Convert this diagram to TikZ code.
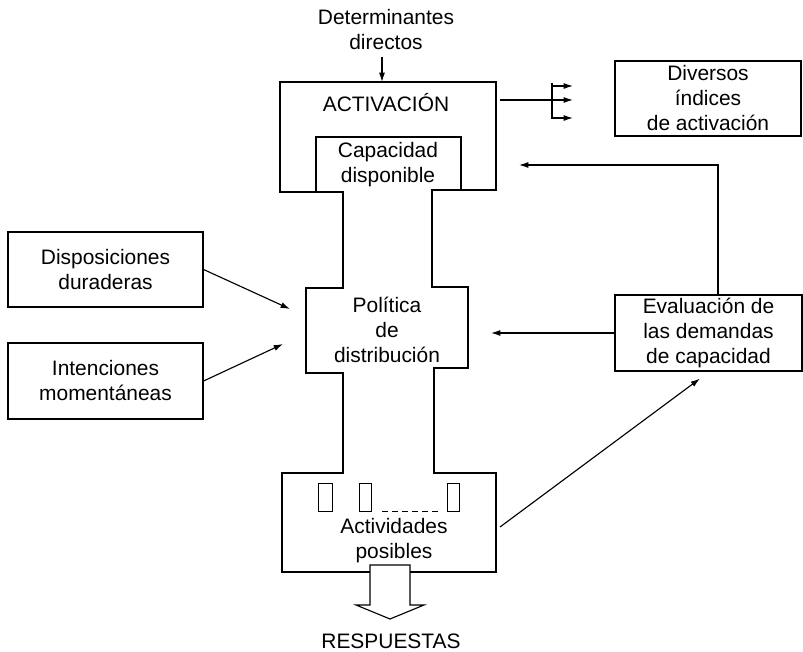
\documentclass[tikz,border=0pt]{standalone}
\usepackage{fontspec}
\setmainfont{Liberation Sans}
\usetikzlibrary{arrows.meta}

\begin{document}
\begin{tikzpicture}[x=0.75pt, y=-0.75pt, line width=0.85pt,
  font=\fontsize{15.7}{18.75}\selectfont,
  >={Latex[length=7pt,width=4.5pt]},
  box/.style = {draw, align=center, inner sep=0pt},
  txt/.style = {align=center, inner sep=0pt}]
\useasboundingbox (0,0) rectangle (803,652);

% contorno del canal
\draw (280,82) -- (496,82) -- (496,190) -- (432,190) -- (432,287) -- (468,287)
  -- (468,368) -- (434,368) -- (434,473) -- (496,473) -- (496,572) -- (282,572)
  -- (282,473) -- (343,473) -- (343,373) -- (306,373) -- (306,288) -- (343,288)
  -- (343,192) -- (280,192) -- cycle;
\draw (316,192) -- (316,137) -- (461,137) -- (461,190);

% textos
\node[txt] (det) at (386,30) {Determinantes\\directos};
\node[txt, anchor=base] (act) at (386,112) {ACTIVACIÓN};
\node[txt] (cap) at (388,165) {Capacidad\\disponible};
\node[txt] (pol) at (387,330) {Política\\de\\distribución};
\node[txt] (actv) at (394,541) {Actividades\\posibles};
\node[txt, anchor=base] (resp) at (391,648) {RESPUESTAS};

% cajas
\node[box, minimum width=139.5pt, minimum height=56.25pt] (div) at (708,98.5) {Diversos\\índices\\de activación};
\node[box, minimum width=140.25pt, minimum height=57pt] (eval) at (708.5,333) {Evaluación de\\las demandas\\de capacidad};
\node[box, minimum width=146.25pt, minimum height=56.25pt] (disp) at (105.5,269.5) {Disposiciones\\duraderas};
\node[box, minimum width=146.25pt, minimum height=57pt] (inten) at (105.5,381) {Intenciones\\momentáneas};

% actividades
\draw[line width=0.7pt] (318,483) rectangle (332,511);
\draw[line width=0.7pt] (359,483) rectangle (371,511);
\draw[line width=0.7pt] (447,483) rectangle (459,511);
\draw[line width=0.7pt, dash pattern=on 4.5pt off 3pt] (382,511) -- (439,511);
\draw[fill=white] (370,565) -- (410,565) -- (410,605) -- (424,605) -- (390,619)
  -- (356,605) -- (370,605) -- cycle;

% flechas
\coordinate (acttop) at (382,82);
\coordinate (actout) at (500,100);
\coordinate (capin) at (519,165);
\coordinate (polin) at (491,333);
\coordinate (polL1) at (290,309);
\coordinate (polL2) at (283,344);
\coordinate (actvR) at (500,527);
\draw[->] ([xshift=-3pt,yshift=-4.5pt]det.south) -- (acttop);
\draw[->] (actout) -- (573,100);
\draw (552,83) -- (552,119);
\draw[->] (552,86) -- ++(21,0);
\draw[->] (552,118) -- ++(21,0);
\draw[->] ([xshift=7.1pt]eval.north) |- (capin);
\draw[->] (eval.west) -- (polin);
\draw[->] (disp.east) -- (polL1);
\draw[->] (inten.east) -- (polL2);
\draw[->] (actvR) -- ([xshift=-6.4pt,yshift=-5.25pt]eval.south);
\end{tikzpicture}
\end{document}
